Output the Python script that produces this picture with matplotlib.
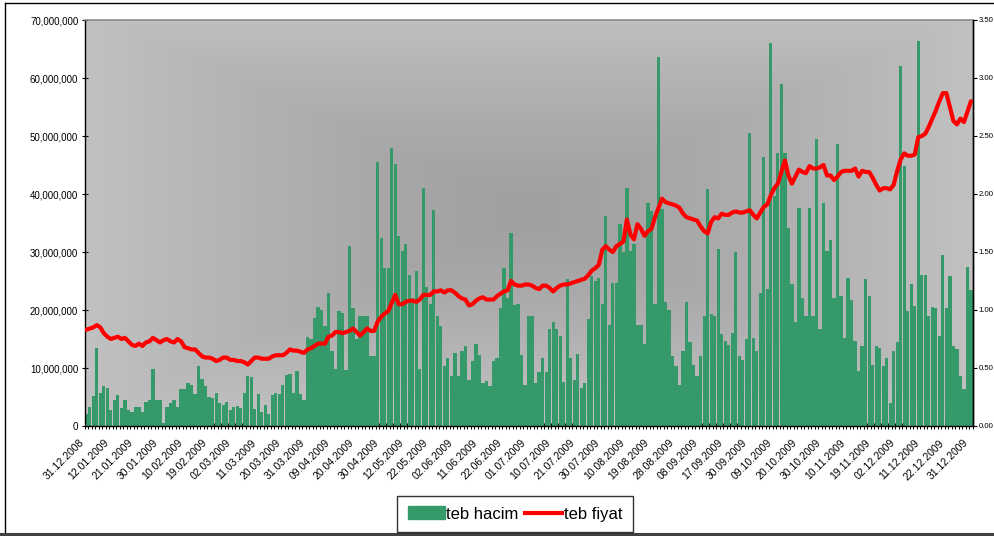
import numpy as np
import matplotlib
matplotlib.use("Agg")
import matplotlib.pyplot as plt
from matplotlib.lines import Line2D
from matplotlib.patches import Patch
from matplotlib.ticker import FuncFormatter, FixedLocator
import matplotlib.transforms as mtransforms

plt.rcParams['font.family'] = ['Liberation Sans', 'DejaVu Sans']

# ---- data ----
tick_labels = ["31.12.2008", "12.01.2009", "21.01.2009", "30.01.2009", "10.02.2009",
               "19.02.2009", "02.03.2009", "11.03.2009", "20.03.2009", "31.03.2009",
               "09.04.2009", "20.04.2009", "30.04.2009", "12.05.2009", "22.05.2009",
               "02.06.2009", "11.06.2009", "22.06.2009", "01.07.2009", "10.07.2009",
               "21.07.2009", "30.07.2009", "10.08.2009", "19.08.2009", "28.08.2009",
               "08.09.2009", "17.09.2009", "30.09.2009", "09.10.2009", "20.10.2009",
               "30.10.2009", "10.11.2009", "19.11.2009", "02.12.2009", "11.12.2009",
               "22.12.2009", "31.12.2009"]
label_step = 7  # trading days between labelled dates

# teb hacim (volume, millions)
volume_m = [
    2.0, 3.3, 5.2, 13.4, 5.7, 6.9, 6.5, 2.8, 4.4, 5.3,
    3.1, 4.5, 2.8, 2.5, 3.3, 3.3, 2.4, 4.1, 4.5, 9.8,
    4.5, 4.5, 0.5, 3.3, 4.0, 4.4, 3.3, 6.3, 6.3, 7.5,
    7.0, 5.5, 10.3, 8.1, 6.9, 5.0, 4.8, 5.7, 4.0, 3.6,
    4.1, 2.8, 3.3, 3.5, 3.1, 5.7, 8.6, 8.4, 3.0, 5.5,
    2.5, 3.6, 2.0, 5.4, 5.7, 5.6, 7.1, 8.8, 8.9, 5.7,
    9.5, 5.5, 4.5, 15.4, 15.0, 18.6, 20.6, 20.0, 17.2, 23.0,
    13.0, 9.8, 19.8, 19.5, 9.6, 31.0, 20.3, 15.0, 19.0, 19.0,
    19.0, 12.1, 12.0, 45.6, 32.5, 27.3, 27.3, 48.0, 45.2, 32.8,
    30.2, 31.3, 26.0, 22.1, 26.7, 9.8, 41.0, 24.0, 21.0, 37.3,
    19.0, 17.3, 10.3, 11.7, 8.6, 12.6, 8.6, 13.0, 13.8, 8.0,
    11.2, 14.1, 12.2, 7.5, 7.8, 6.9, 11.2, 11.7, 20.3, 27.3,
    22.0, 33.3, 20.9, 21.1, 12.2, 7.1, 19.0, 19.0, 7.5, 9.3,
    11.7, 9.3, 16.8, 18.0, 16.8, 15.6, 7.6, 25.3, 11.7, 8.0,
    12.4, 6.6, 7.5, 18.5, 25.9, 25.0, 25.6, 21.0, 36.2, 17.4,
    24.7, 24.7, 34.8, 30.0, 41.1, 30.2, 31.3, 17.4, 17.4, 14.1,
    38.4, 37.0, 21.0, 63.6, 37.4, 21.4, 20.0, 12.0, 10.3, 7.1,
    12.9, 21.4, 14.4, 10.6, 8.6, 12.0, 19.0, 40.9, 19.3, 19.0,
    30.5, 15.9, 14.7, 14.0, 16.0, 30.0, 12.0, 11.3, 15.0, 50.6,
    15.2, 12.9, 23.0, 46.3, 23.6, 66.1, 39.6, 47.0, 59.0, 47.1,
    34.2, 24.4, 18.0, 37.6, 22.1, 19.0, 37.6, 19.0, 49.4, 16.8,
    38.4, 30.2, 32.0, 22.1, 48.6, 22.4, 15.2, 25.6, 21.8, 14.7,
    9.5, 13.8, 25.3, 22.4, 10.6, 13.8, 13.5, 10.3, 11.7, 3.9,
    12.9, 14.5, 62.0, 44.9, 19.9, 24.4, 20.7, 66.4, 26.0, 26.1,
    19.0, 20.5, 20.3, 15.5, 29.5, 20.3, 25.9, 13.8, 13.2, 8.6,
    6.3, 27.5, 23.4,
]

# teb fiyat (price)
price = [
    0.83, 0.84, 0.85, 0.87, 0.85, 0.80, 0.77, 0.75, 0.76, 0.77,
    0.75, 0.76, 0.73, 0.70, 0.69, 0.71, 0.69, 0.72, 0.73, 0.76,
    0.74, 0.72, 0.74, 0.75, 0.73, 0.72, 0.75, 0.73, 0.68, 0.67,
    0.66, 0.66, 0.63, 0.60, 0.59, 0.59, 0.58, 0.56, 0.57, 0.59,
    0.59, 0.57, 0.57, 0.56, 0.56, 0.55, 0.53, 0.56, 0.59, 0.59,
    0.58, 0.58, 0.58, 0.60, 0.61, 0.61, 0.61, 0.63, 0.66, 0.65,
    0.65, 0.64, 0.63, 0.66, 0.67, 0.69, 0.71, 0.71, 0.71, 0.77,
    0.78, 0.81, 0.81, 0.80, 0.81, 0.82, 0.84, 0.81, 0.78, 0.81,
    0.84, 0.82, 0.82, 0.90, 0.94, 0.97, 0.99, 1.06, 1.13, 1.05,
    1.05, 1.07, 1.08, 1.08, 1.07, 1.09, 1.13, 1.13, 1.13, 1.16,
    1.16, 1.17, 1.15, 1.17, 1.17, 1.15, 1.12, 1.10, 1.09, 1.04,
    1.05, 1.08, 1.10, 1.11, 1.09, 1.09, 1.09, 1.12, 1.14, 1.16,
    1.17, 1.25, 1.22, 1.21, 1.21, 1.22, 1.22, 1.21, 1.19, 1.18,
    1.21, 1.21, 1.19, 1.16, 1.19, 1.21, 1.22, 1.22, 1.23, 1.24,
    1.25, 1.26, 1.27, 1.30, 1.34, 1.36, 1.39, 1.52, 1.55, 1.52,
    1.50, 1.55, 1.57, 1.59, 1.78, 1.65, 1.61, 1.74, 1.70, 1.64,
    1.68, 1.70, 1.80, 1.88, 1.96, 1.93, 1.92, 1.91, 1.90, 1.88,
    1.83, 1.80, 1.79, 1.78, 1.77, 1.72, 1.68, 1.66, 1.76, 1.80,
    1.79, 1.83, 1.82, 1.82, 1.84, 1.85, 1.84, 1.84, 1.85, 1.86,
    1.82, 1.79, 1.84, 1.89, 1.91, 1.99, 2.05, 2.09, 2.19, 2.29,
    2.16, 2.09, 2.15, 2.21, 2.19, 2.18, 2.24, 2.22, 2.22, 2.23,
    2.25, 2.16, 2.16, 2.12, 2.15, 2.19, 2.20, 2.20, 2.20, 2.22,
    2.15, 2.20, 2.19, 2.19, 2.14, 2.08, 2.03, 2.05, 2.05, 2.04,
    2.08, 2.20, 2.30, 2.35, 2.33, 2.33, 2.34, 2.49, 2.50, 2.52,
    2.58, 2.65, 2.72, 2.80, 2.87, 2.87, 2.75, 2.63, 2.60, 2.65,
    2.62, 2.71, 2.80,
]

vol_ticks = [0, 10e6, 20e6, 30e6, 40e6, 50e6, 60e6, 70e6]
price_ticks = [0.0, 0.5, 1.0, 1.5, 2.0, 2.5, 3.0, 3.5]

bar_color = "#35996A"
line_color = "#FF0000"

# ---- figure ----
W, H = 994, 536
fig = plt.figure(figsize=(W / 100, H / 100), dpi=100)
fig.patch.set_facecolor("white")

x0, x1, ytop, ybot = 84.5, 972.7, 20, 426
ax = fig.add_axes([x0 / W, 1 - ybot / H, (x1 - x0) / W, (ybot - ytop) / H])

n = len(volume_m)
idx = np.arange(n)
volume = np.array(volume_m) * 1e6

# gradient background (darker at centre)
gx = np.linspace(-1, 1, 400)
gy = np.linspace(-1, 1, 300)
GX, GY = np.meshgrid(gx, gy)
d = np.clip(np.maximum(np.abs(GX - 0.0), np.abs(GY + 0.05)), 0, 1)
shade = (160 + 33 * d ** 1.3) / 255.0
img = np.dstack([shade, shade, shade])
ax.imshow(img, extent=[0, 1, 0, 1], transform=ax.transAxes, aspect="auto", zorder=0)

ax.bar(idx, volume, width=0.93, color=bar_color, linewidth=0, zorder=2)
ax.set_xlim(-0.5, n - 0.5)
ax.set_ylim(0, 70e6)
ax.set_yticks(vol_ticks)
ax.yaxis.set_major_formatter(FuncFormatter(lambda v, p: f"{int(round(v)):,}"))
ax.tick_params(axis="y", labelsize=7, direction="inout", length=5, width=0.8, pad=2)

# x ticks: labels at every 7th trading day, marks at category boundaries
major_pos = list(range(0, n, label_step))
ax.xaxis.set_major_locator(FixedLocator(major_pos))
ax.set_xticklabels(tick_labels)
ax.xaxis.set_minor_locator(FixedLocator(list(np.arange(-0.5, n, 1.0))))
ax.tick_params(axis="x", which="major", length=0, labelsize=7.5, pad=11)
ax.tick_params(axis="x", which="minor", direction="inout", length=5, width=0.7)
offset = mtransforms.ScaledTranslation(-4 / 100, 0, fig.dpi_scale_trans)
for lab in ax.get_xticklabels():
    lab.set_rotation(45)
    lab.set_rotation_mode("anchor")
    lab.set_ha("right")
    lab.set_va("center")
    lab.set_transform(lab.get_transform() + offset)

for s in ["left", "bottom", "right"]:
    ax.spines[s].set_color("black")
    ax.spines[s].set_linewidth(1)
ax.spines["top"].set_color("#8c8c8c")
ax.spines["top"].set_linewidth(1.2)

ax2 = ax.twinx()
ax2.plot(idx, price, color=line_color, linewidth=3.0, solid_joinstyle="round",
         solid_capstyle="round", zorder=3)
ax2.set_ylim(0, 3.5)
ax2.set_yticks(price_ticks)
ax2.yaxis.set_major_formatter(FuncFormatter(lambda v, p: f"{v:.2f}"))
ax2.tick_params(axis="y", labelsize=5.6, direction="out", length=3, width=0.8, pad=1)
ax2.patch.set_visible(False)
for s in ["left", "top", "bottom"]:
    ax2.spines[s].set_visible(False)
ax2.spines["right"].set_color("black")
ax2.spines["right"].set_linewidth(1)

# legend
handles = [Patch(facecolor=bar_color, edgecolor=bar_color, label="teb hacim"),
           Line2D([0], [0], color=line_color, linewidth=3, label="teb fiyat")]
leg = fig.legend(handles=handles, loc="center", bbox_to_anchor=(515 / W, 1 - 514 / H),
                 ncol=2, fontsize=12, frameon=True, fancybox=False, shadow=False,
                 handlelength=2.2, handleheight=0.8, handletextpad=0.1, columnspacing=0.4,
                 borderpad=0.65, borderaxespad=0)
leg.get_frame().set_edgecolor("black")
leg.get_frame().set_linewidth(1.0)

# outer chart border
fig.add_artist(Line2D([5 / W, 5 / W], [2 / H, 1 - 3 / H], color="black", linewidth=1.0,
                      transform=fig.transFigure))
fig.add_artist(Line2D([5 / W, 1], [1 - 3 / H, 1 - 3 / H], color="black", linewidth=1.0,
                      transform=fig.transFigure))
fig.add_artist(Line2D([0, 1], [2 / H, 2 / H], color="#404040", linewidth=2.2,
                      transform=fig.transFigure))

fig.savefig("out.png", dpi=100, facecolor="white")
